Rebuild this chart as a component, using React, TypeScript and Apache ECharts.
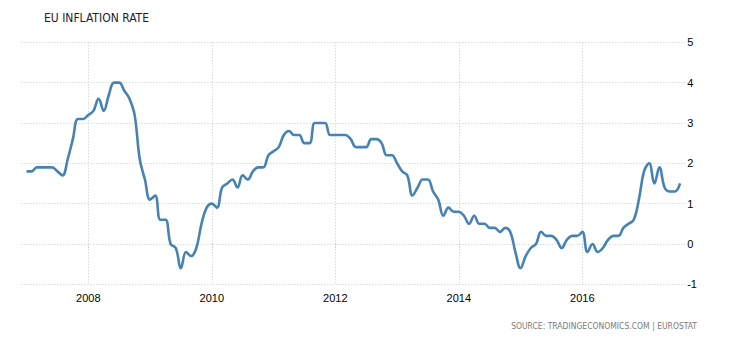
import React, { useEffect, useRef } from "react";
import * as echarts from "echarts";

// Monthly EU inflation rate (%), Jan 2007 .. Aug 2017
const inflation2007 = [1.8, 1.8, 1.9, 1.9, 1.9, 1.9, 1.8, 1.7, 2.1, 2.6, 3.1, 3.1];
const inflation2008 = [3.2, 3.3, 3.6, 3.3, 3.7, 4.0, 4.0, 3.8, 3.6, 3.2, 2.1, 1.6];
const inflation2009 = [1.1, 1.2, 0.6, 0.6, 0.0, -0.1, -0.6, -0.2, -0.3, -0.1, 0.5, 0.9];
const inflation2010 = [1.0, 0.9, 1.4, 1.5, 1.6, 1.4, 1.7, 1.6, 1.8, 1.9, 1.9, 2.2];
const inflation2011 = [2.3, 2.4, 2.7, 2.8, 2.7, 2.7, 2.5, 2.5, 3.0, 3.0, 3.0, 2.7];
const inflation2012 = [2.7, 2.7, 2.7, 2.6, 2.4, 2.4, 2.4, 2.6, 2.6, 2.5, 2.2, 2.2];
const inflation2013 = [2.0, 1.8, 1.7, 1.2, 1.4, 1.6, 1.6, 1.3, 1.1, 0.7, 0.9, 0.8];
const inflation2014 = [0.8, 0.7, 0.5, 0.7, 0.5, 0.5, 0.4, 0.4, 0.3, 0.4, 0.3, -0.2];
const inflation2015 = [-0.6, -0.3, -0.1, 0.0, 0.3, 0.2, 0.2, 0.1, -0.1, 0.1, 0.2, 0.2];
const inflation2016 = [0.3, -0.2, 0.0, -0.2, -0.1, 0.1, 0.2, 0.2, 0.4, 0.5, 0.6, 1.1];
const inflation2017 = [1.8, 2.0, 1.5, 1.9, 1.4, 1.3, 1.3, 1.5];

// axis range: one empty month before the first and after the last observation
const axisStart = "2006-12";
const axisEnd = "2017-09";
const firstObs = "2007-01";
const labelYears = ["2008", "2010", "2012", "2014", "2016"];
const yTicks = [-1, 0, 1, 2, 3, 4, 5];

const TITLE = "EU INFLATION RATE";
const SOURCE = "SOURCE: TRADINGECONOMICS.COM | EUROSTAT";

function buildMonths(from: string, to: string): string[] {
  const out: string[] = [];
  let [y, m] = from.split("-").map(Number);
  const [ey, em] = to.split("-").map(Number);
  while (y < ey || (y === ey && m <= em)) {
    out.push(`${y}-${String(m).padStart(2, "0")}`);
    m++;
    if (m > 12) { m = 1; y++; }
  }
  return out;
}

export default function App() {
  const ref = useRef<HTMLDivElement>(null);
  useEffect(() => {
    if (!ref.current) return;
    const chart = echarts.init(ref.current, undefined, { renderer: "svg" });
    const months = buildMonths(axisStart, axisEnd);
    const values = [
      ...inflation2007, ...inflation2008, ...inflation2009, ...inflation2010,
      ...inflation2011, ...inflation2012, ...inflation2013, ...inflation2014,
      ...inflation2015, ...inflation2016, ...inflation2017,
    ];
    const offset = months.indexOf(firstObs);
    const seriesData = months.map((_, i) => {
      const k = i - offset;
      return k >= 0 && k < values.length ? values[k] : null;
    });
    const isLabelMonth = (v: string) =>
      v.endsWith("-01") && labelYears.includes(v.slice(0, 4));
    const gridColor = "#c8c8c8";
    const font = "'Liberation Sans', Arial, sans-serif";
    const narrow = "'Liberation Sans Narrow', 'DejaVu Sans Condensed', 'Liberation Sans', sans-serif";
    chart.setOption({
      animation: false,
      grid: { left: 21.4, right: 44.8, top: 42.3, bottom: 55.7, containLabel: false },
      xAxis: {
        type: "category",
        data: months,
        boundaryGap: false,
        axisLine: { show: false },
        axisTick: {
          show: true,
          length: 5,
          interval: (_i: number, v: string) => isLabelMonth(v),
          lineStyle: { color: gridColor, type: [1, 2], width: 1 },
        },
        splitLine: {
          show: true,
          interval: (_i: number, v: string) => isLabelMonth(v),
          lineStyle: { color: gridColor, type: [1, 2], width: 1 },
        },
        axisLabel: {
          interval: (_i: number, v: string) => isLabelMonth(v),
          formatter: (v: string) => v.slice(0, 4),
          color: "#000",
          fontSize: 11,
          fontFamily: font,
          margin: 8,
        },
      },
      yAxis: {
        type: "value",
        position: "right",
        min: yTicks[0],
        max: yTicks[yTicks.length - 1],
        interval: 1,
        axisLine: { show: false },
        axisTick: { show: false },
        splitLine: { show: true, lineStyle: { color: gridColor, type: [1, 2], width: 1 } },
        axisLabel: { color: "#000", fontSize: 11, fontFamily: font, margin: 2 },
      },
      series: [
        {
          type: "line",
          data: seriesData,
          smooth: 0.4,
          showSymbol: false,
          symbol: "none",
          connectNulls: false,
          lineStyle: { color: "#4682b4", width: 2.6 },
        },
      ],
      graphic: [
        {
          type: "text",
          x: 44,
          y: 18,
          style: {
            text: TITLE,
            fill: "#1c1c2c",
            fontSize: 12,
            fontFamily: narrow,
            align: "left",
            verticalAlign: "middle",
          },
        },
        {
          type: "text",
          x: 697,
          y: 326,
          style: {
            text: SOURCE,
            fill: "#7a7a7a",
            fontSize: 8.5,
            fontFamily: narrow,
            align: "right",
            verticalAlign: "middle",
          },
        },
      ],
    });
    return () => chart.dispose();
  }, []);
  return (
    <div
      ref={ref}
      style={{ position: "absolute", left: 0, top: 0, width: 730, height: 340 }}
    />
  );
}
